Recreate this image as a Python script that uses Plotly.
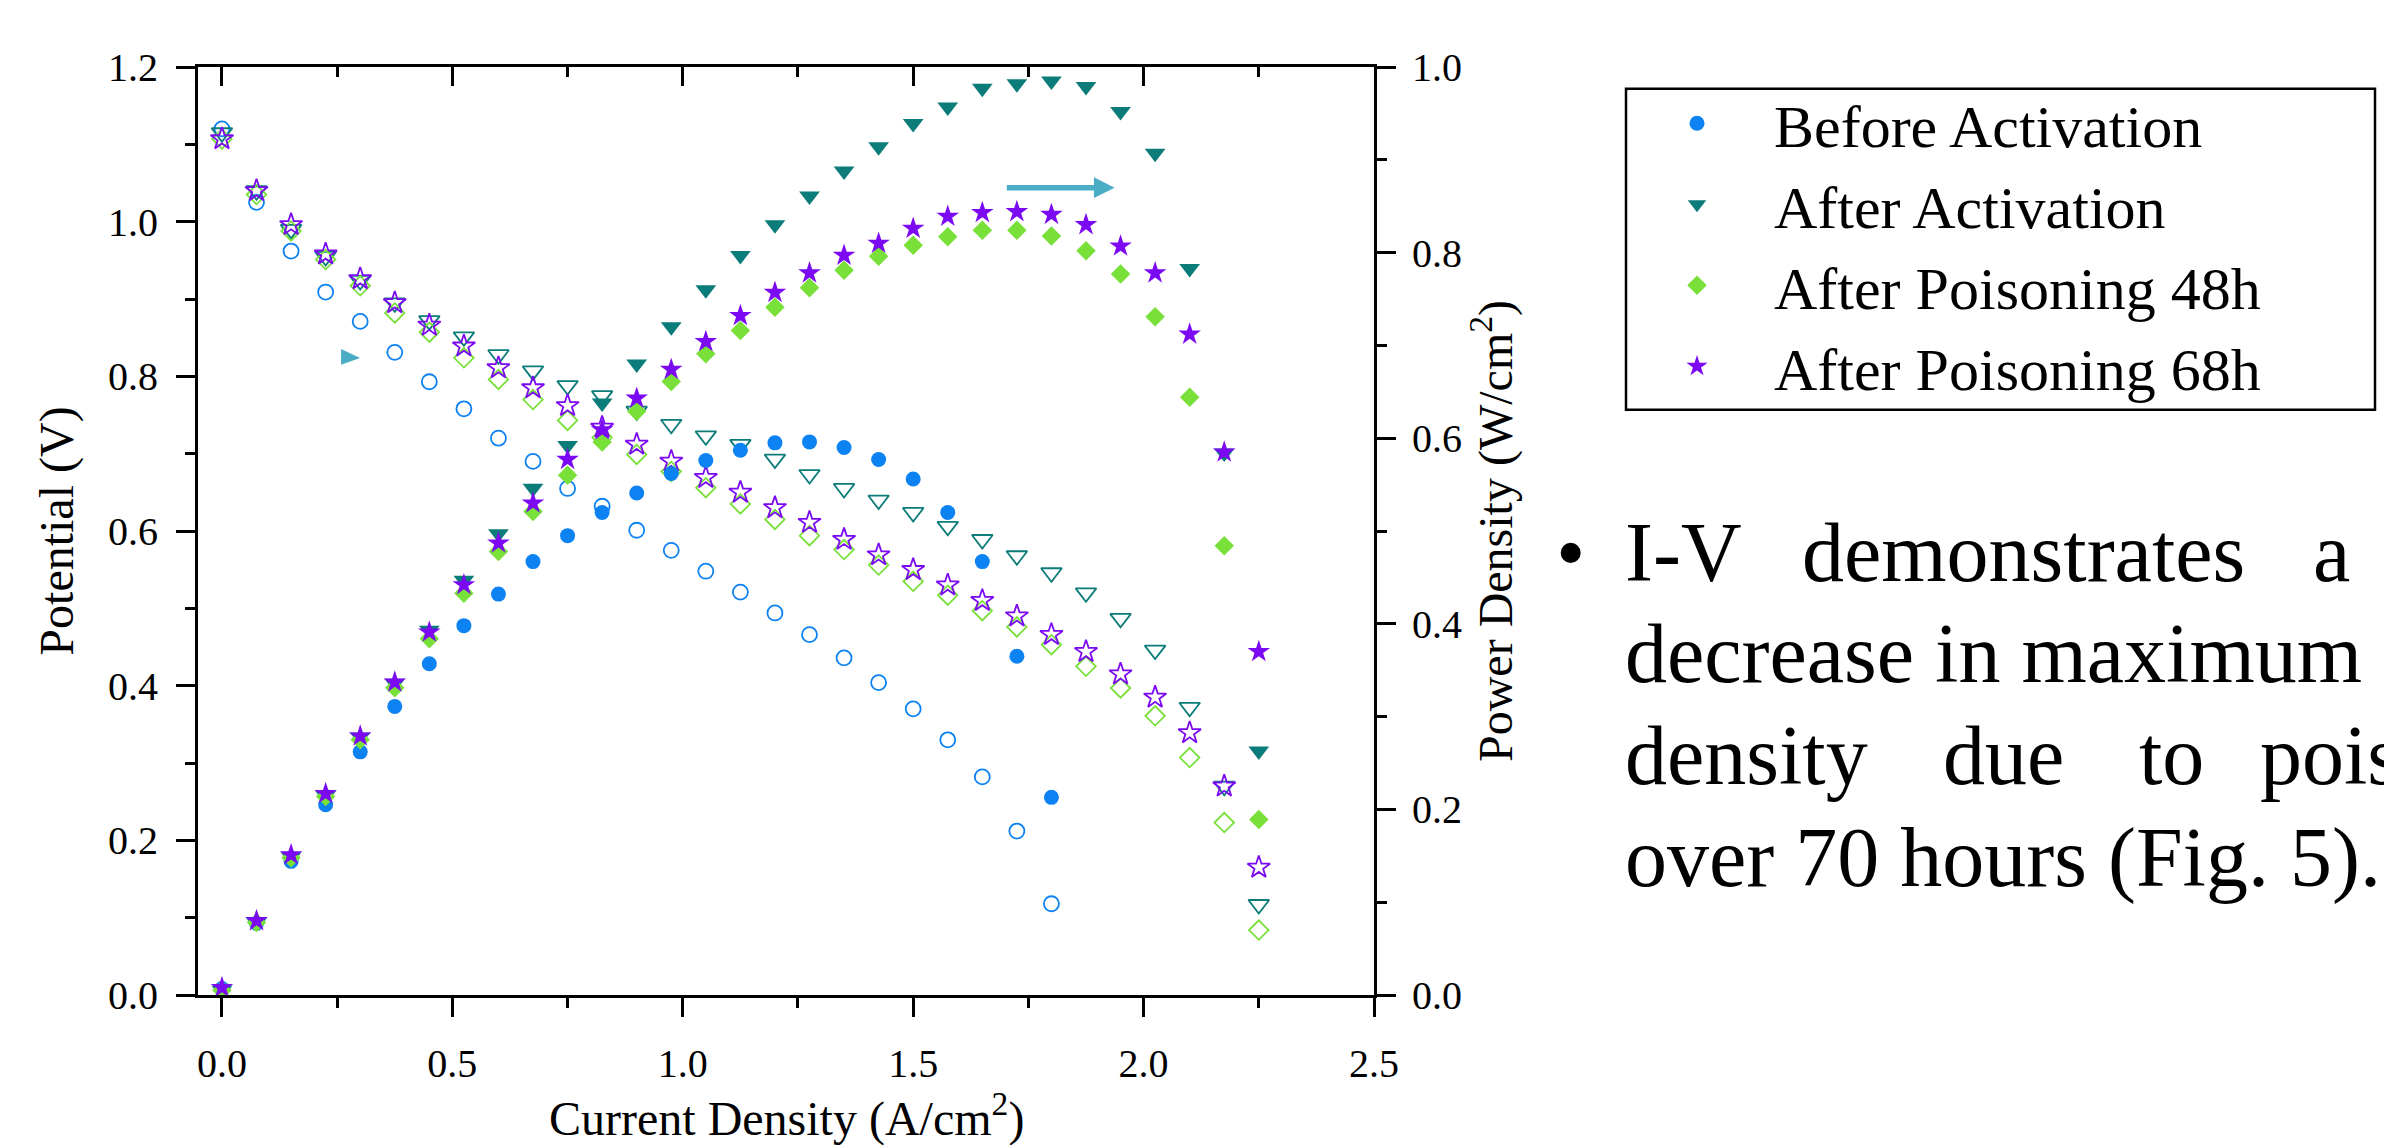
import plotly.graph_objects as go

# ---------------- data ----------------
current_density = [0.0, 0.075, 0.15, 0.225, 0.3, 0.375, 0.45, 0.525, 0.6, 0.675,
                   0.75, 0.825, 0.9, 0.975, 1.05, 1.125, 1.2, 1.275, 1.35, 1.425,
                   1.5, 1.575, 1.65, 1.725, 1.8, 1.875, 1.95, 2.025, 2.1, 2.175, 2.25]

before_V = [1.120, 1.025, 0.962, 0.909, 0.871, 0.831, 0.793, 0.758, 0.720, 0.690,
            0.655, 0.632, 0.601, 0.575, 0.548, 0.521, 0.494, 0.466, 0.436, 0.404,
            0.370, 0.330, 0.282, 0.212, 0.118]
before_P = [0.007, 0.077, 0.144, 0.205, 0.262, 0.311, 0.357, 0.398, 0.432, 0.467,
            0.495, 0.520, 0.541, 0.562, 0.576, 0.587, 0.595, 0.596, 0.590, 0.577,
            0.556, 0.520, 0.467, 0.365, 0.213]

after_V = [1.115, 1.040, 0.990, 0.955, 0.924, 0.895, 0.872, 0.851, 0.828, 0.807,
           0.788, 0.775, 0.755, 0.738, 0.723, 0.712, 0.693, 0.673, 0.655, 0.640,
           0.624, 0.606, 0.589, 0.568, 0.546, 0.520, 0.487, 0.446, 0.372, 0.270, 0.117]
after_P = [0.005, 0.078, 0.149, 0.215, 0.278, 0.336, 0.393, 0.447, 0.497, 0.546,
           0.592, 0.638, 0.680, 0.720, 0.760, 0.797, 0.830, 0.861, 0.888, 0.914,
           0.939, 0.957, 0.977, 0.982, 0.985, 0.979, 0.952, 0.907, 0.783, 0.584, 0.263]

p48_V = [1.107, 1.035, 0.988, 0.951, 0.917, 0.882, 0.857, 0.824, 0.796, 0.770,
         0.743, 0.721, 0.699, 0.677, 0.656, 0.635, 0.615, 0.594, 0.576, 0.556,
         0.535, 0.517, 0.497, 0.476, 0.453, 0.425, 0.397, 0.361, 0.307, 0.223, 0.084]
p48_P = [0.005, 0.078, 0.148, 0.214, 0.275, 0.331, 0.384, 0.433, 0.478, 0.521,
         0.560, 0.596, 0.629, 0.661, 0.691, 0.716, 0.741, 0.762, 0.781, 0.796,
         0.808, 0.817, 0.824, 0.824, 0.818, 0.802, 0.777, 0.731, 0.644, 0.484, 0.189]

p68_V = [1.107, 1.040, 0.996, 0.958, 0.926, 0.895, 0.866, 0.839, 0.811, 0.785,
         0.762, 0.734, 0.712, 0.690, 0.669, 0.650, 0.630, 0.611, 0.589, 0.569,
         0.550, 0.530, 0.510, 0.490, 0.466, 0.444, 0.415, 0.385, 0.339, 0.270, 0.165]
p68_P = [0.008, 0.080, 0.151, 0.217, 0.279, 0.337, 0.391, 0.442, 0.487, 0.530,
         0.577, 0.609, 0.643, 0.674, 0.704, 0.732, 0.757, 0.778, 0.797, 0.810,
         0.826, 0.839, 0.843, 0.844, 0.841, 0.830, 0.807, 0.778, 0.712, 0.585, 0.370]

series_names = ["Before Activation", "After Activation",
                "After Poisoning 48h", "After Poisoning 68h"]

x_ticks = [0.0, 0.5, 1.0, 1.5, 2.0, 2.5]
y_left_ticks = [0.0, 0.2, 0.4, 0.6, 0.8, 1.0, 1.2]
y_right_ticks = [0.0, 0.2, 0.4, 0.6, 0.8, 1.0]

x_title = "Current Density (A/cm<sup>2</sup>)"
y_left_title = "Potential (V)"
y_right_title = "Power Density (W/cm<sup>2</sup>)"

bullet_line1 = ["I-V", "demonstrates", "a"]
bullet_line2 = "decrease in maximum"
bullet_line3 = ["density", "due", "to", "poisoning"]
bullet_line4 = "over 70 hours (Fig. 5)."

# ---------------- styling ----------------
SERIF = "Liberation Serif, Times New Roman, serif"
colors = ["#0d82f2", "#0b7c79", "#79e03a", "#7b0af2"]
symbols = ["circle", "triangle-down", "diamond", "star"]
sizes = [15, 18, 15, 17]

V_data = [before_V, after_V, p48_V, p68_V]
P_data = [before_P, after_P, p48_P, p68_P]

fig = go.Figure()

# potential curves (open markers, left axis)
for name, V, c, s, sz in zip(series_names, V_data, colors, symbols, sizes):
    fig.add_trace(go.Scatter(
        x=current_density[:len(V)], y=V, mode="markers", name=name,
        showlegend=False, xaxis="x", yaxis="y",
        marker=dict(symbol=s + "-open", size=sz, color=c, line=dict(width=1.8, color=c)),
    ))

# power density curves (filled markers, right axis)
for name, P, c, s, sz in zip(series_names, P_data, colors, symbols, sizes):
    fig.add_trace(go.Scatter(
        x=current_density[:len(P)], y=P, mode="markers", name=name,
        showlegend=True, xaxis="x", yaxis="y2",
        marker=dict(symbol=s, size=sz, color=c, line=dict(width=0)),
    ))

# invisible trace so that the mirrored top axis is drawn
fig.add_trace(go.Scatter(x=[None], y=[None], xaxis="x3", yaxis="y",
                         showlegend=False, hoverinfo="skip"))

X_RANGE = [-0.052, 2.5]
axis_common = dict(showline=True, linewidth=3, linecolor="black", showgrid=False,
                   zeroline=False, tickwidth=3, tickcolor="black", ticklen=19,
                   tickformat=".1f", automargin=False, tickfont=dict(size=40))

fig.update_layout(
    width=2392, height=1146,
    margin=dict(l=190, r=1026, t=59, b=159, autoexpand=False),
    paper_bgcolor="white", plot_bgcolor="white",
    font=dict(family=SERIF, color="black", size=40),
    xaxis=dict(range=X_RANGE, tickvals=x_ticks, ticks="outside",
               minor=dict(dtick=0.25, tick0=0, ticks="outside", ticklen=10, tickwidth=3,
                          tickcolor="black", showgrid=False),
               ticklabelstandoff=12, **axis_common),
    xaxis3=dict(range=X_RANGE, overlaying="x", side="top", anchor="y", tickvals=x_ticks,
                ticks="inside", showticklabels=False,
                minor=dict(dtick=0.25, tick0=0, ticks="inside", ticklen=10, tickwidth=3,
                           tickcolor="black", showgrid=False),
                **axis_common),
    yaxis=dict(range=[0, 1.2], tickvals=y_left_ticks, ticks="outside",
               minor=dict(dtick=0.1, tick0=0, ticks="outside", ticklen=10, tickwidth=3,
                          tickcolor="black", showgrid=False),
               title=dict(text=y_left_title, font=dict(size=48), standoff=20),
               ticklabelstandoff=10, **axis_common),
    yaxis2=dict(range=[0, 1.0], tickvals=y_right_ticks, overlaying="y", side="right", anchor="x",
                ticks="outside",
                minor=dict(dtick=0.1, tick0=0, ticks="outside", ticklen=10, tickwidth=3,
                           tickcolor="black", showgrid=False),
                title=dict(text=y_right_title, font=dict(size=48), standoff=16),
                ticklabelstandoff=8, **axis_common),
    legend=dict(x=(1612 - 190) / 1176, y=(987.3 - 70) / 928, xanchor="left", yanchor="top",
                bgcolor="rgba(0,0,0,0)", borderwidth=0, itemwidth=144,
                font=dict(size=60, family=SERIF, color="black"), tracegroupgap=0),
)


def px_x(px):
    return (px - 190) / 1176


def px_y(py):
    return (987.3 - py) / 928


# x-axis title placed precisely (as in the reference, it sits at the bottom edge)
fig.add_annotation(text=x_title, x=px_x(778), y=px_y(1108), xref="paper", yref="paper",
                   xanchor="center", yanchor="middle", showarrow=False,
                   font=dict(family=SERIF, size=48, color="black"))

# legend frame
fig.add_shape(type="rect", xref="paper", yref="paper",
              x0=px_x(1618), x1=px_x(2367), y0=px_y(402), y1=px_y(81),
              line=dict(color="black", width=2.5), fillcolor="rgba(0,0,0,0)")

# arrows (decoration)
ARROW_C = "#4BACC6"
fig.add_annotation(x=1.937, y=1.044, xref="x", yref="y", ax=1.70, ay=1.044,
                   axref="x", ayref="y", showarrow=True, arrowhead=2, arrowsize=0.75,
                   arrowwidth=5.5, arrowcolor=ARROW_C, text="")
fig.add_shape(type="path", xref="x", yref="y",
              path="M 0.2585 0.8355 L 0.2997 0.8238 L 0.2585 0.8150 Z",
              fillcolor=ARROW_C, line=dict(width=0))

# bullet text
BFONT = dict(family=SERIF, size=84, color="black")
line_centres = [545, 646, 748, 850]

fig.add_annotation(text="\u2022", x=px_x(1562), y=px_y(line_centres[0]), xref="paper", yref="paper",
                   xanchor="center", yanchor="middle", showarrow=False, font=BFONT)
for word, px in zip(bullet_line1, [1615, 1792, 2303]):
    fig.add_annotation(text=word, x=px_x(px), y=px_y(line_centres[0]), xref="paper", yref="paper",
                       xanchor="left", yanchor="middle", showarrow=False, font=BFONT)
fig.add_annotation(text=bullet_line2, x=px_x(1615), y=px_y(line_centres[1]), xref="paper", yref="paper",
                   xanchor="left", yanchor="middle", showarrow=False, font=BFONT)
for word, px in zip(bullet_line3, [1615, 1933, 2129, 2250]):
    fig.add_annotation(text=word, x=px_x(px), y=px_y(line_centres[2]), xref="paper", yref="paper",
                       xanchor="left", yanchor="middle", showarrow=False, font=BFONT)
fig.add_annotation(text=bullet_line4, x=px_x(1615), y=px_y(line_centres[3]), xref="paper", yref="paper",
                   xanchor="left", yanchor="middle", showarrow=False, font=BFONT)

fig.write_html("out.html")
